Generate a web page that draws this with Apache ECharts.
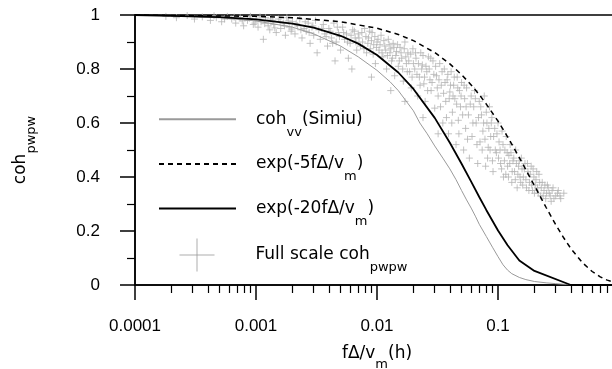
<!DOCTYPE html>
<html><head><meta charset="utf-8">
<script src="https://cdn.jsdelivr.net/npm/echarts@6/dist/echarts.min.js"></script>
<style>html,body{margin:0;padding:0;background:#fff}#c{width:612px;height:369px}</style>
</head><body><div id="c"></div><script>
// ---- data ----
const xTickLabels = ['0.0001','0.001','0.01','0.1','1'];
const xMinorTickValues = [2e-4,3e-4,4e-4,5e-4,6e-4,7e-4,8e-4,9e-4,
  0.002,0.003,0.004,0.005,0.006,0.007,0.008,0.009,
  0.02,0.03,0.04,0.05,0.06,0.07,0.08,0.09,
  0.2,0.3,0.4,0.5,0.6,0.7,0.8,0.9];

const simiuX = [0.0001,0.0002,0.0005,0.001,0.002,0.003,0.004,0.005,0.007,0.01,0.0128,0.015,0.02,0.0226,0.026,0.03,0.035,0.04,0.045,0.05,0.055,0.06,0.065,0.07,0.08,0.09,0.1,0.11,0.12,0.13,0.15,0.17,0.2,0.25,0.3,0.37,0.45,1];
const simiuY = [1.0,0.997,0.99,0.978,0.955,0.93,0.905,0.885,0.845,0.795,0.753,0.72,0.645,0.60,0.56,0.515,0.47,0.43,0.39,0.35,0.315,0.285,0.255,0.225,0.18,0.14,0.105,0.075,0.055,0.042,0.028,0.02,0.013,0.008,0.005,0.002,0,0];

const exp5X = [0.0001,0.001,0.002,0.005,0.01,0.015,0.02,0.03,0.04,0.05,0.06,0.07,0.08,0.1,0.12,0.15,0.2,0.25,0.3,0.35,0.4,0.5,0.6,0.7,0.8,0.9,1];
const exp5Y = [1.0,0.995,0.99,0.975,0.951,0.928,0.905,0.861,0.819,0.779,0.741,0.705,0.670,0.607,0.549,0.472,0.368,0.287,0.223,0.174,0.135,0.082,0.05,0.03,0.018,0.011,0.007];

const exp20X = [0.0001,0.0002,0.0005,0.001,0.002,0.003,0.005,0.007,0.01,0.015,0.02,0.03,0.04,0.05,0.06,0.07,0.08,0.1,0.12,0.15,0.2,0.4,1];
const exp20Y = [1.0,0.997,0.992,0.984,0.968,0.953,0.923,0.894,0.852,0.787,0.726,0.619,0.527,0.449,0.383,0.326,0.278,0.202,0.147,0.091,0.052,0,0];

const fullScalePoints = [
[0.00018,0.995],[0.00022,0.99],[0.00027,0.998],[0.00031,0.985],[0.00036,0.993],[0.00042,0.98],[0.00047,0.99],[0.00052,0.975],[0.00058,0.995],[0.00063,0.985],[0.00068,0.97],[0.00074,0.99],[0.00079,0.96],[0.00085,0.98],[0.0009,0.995],[0.00095,0.965],
[0.001,0.985],[0.00104,0.955],[0.0011,0.975],[0.00115,0.91],[0.0012,0.99],[0.00126,0.96],[0.0013,0.945],[0.00136,0.98],[0.0014,0.965],[0.00147,0.935],[0.00153,0.985],[0.0016,0.95],[0.00168,0.97],[0.00175,0.925],[0.0018,0.99],[0.00188,0.955],[0.00195,0.94],
[0.002,0.975],[0.0021,0.93],[0.0022,0.96],[0.0023,0.985],[0.0024,0.915],[0.0025,0.95],[0.0026,0.94],[0.0027,0.97],[0.0028,0.895],[0.0029,0.955],[0.003,0.925],[0.0031,0.98],[0.0032,0.86],[0.0033,0.945],[0.0034,0.91],[0.0036,0.965],[0.0037,0.93],[0.0039,0.885],[0.004,0.95],[0.0042,0.915],[0.0044,0.97],[0.0046,0.9],[0.0048,0.935],[0.005,0.87],[0.0052,0.955],[0.0054,0.91],[0.0056,0.93],[0.0058,0.84],[0.006,0.895],[0.0063,0.945],[0.0066,0.915],[0.0068,0.87],[0.007,0.93],[0.0073,0.885],[0.0076,0.9],[0.0079,0.95],[0.0082,0.86],[0.0085,0.915],[0.0088,0.875],[0.0091,0.935],[0.0094,0.89],[0.0097,0.82],
[0.01,0.9],[0.0104,0.87],[0.0108,0.925],[0.0112,0.845],[0.0116,0.885],[0.012,0.8],[0.0124,0.91],[0.0128,0.86],[0.0132,0.83],[0.0136,0.895],[0.014,0.775],[0.0145,0.865],[0.015,0.81],[0.0155,0.88],[0.016,0.84],[0.0165,0.755],[0.017,0.9],[0.0175,0.82],[0.018,0.86],[0.0186,0.79],[0.0192,0.73],[0.0198,0.875],
[0.0205,0.8],[0.021,0.84],[0.0217,0.7],[0.0224,0.77],[0.023,0.86],[0.0237,0.815],[0.0244,0.745],[0.025,0.68],[0.0258,0.79],[0.0266,0.845],[0.0274,0.76],[0.028,0.72],[0.029,0.83],[0.03,0.655],[0.031,0.775],[0.032,0.7],[0.033,0.82],[0.034,0.74],[0.035,0.6],[0.036,0.8],[0.037,0.68],[0.038,0.76],[0.039,0.56],[0.04,0.715],[0.041,0.79],[0.042,0.64],
[0.043,0.74],[0.044,0.69],[0.045,0.52],[0.046,0.77],[0.047,0.61],[0.048,0.72],[0.049,0.66],[0.05,0.75],[0.052,0.5],[0.053,0.69],[0.054,0.58],[0.055,0.73],[0.057,0.63],[0.058,0.47],[0.06,0.7],[0.061,0.55],[0.063,0.66],[0.064,0.72],[0.066,0.6],[0.068,0.45],[0.07,0.68],[0.071,0.53],[0.073,0.63],[0.075,0.57],[0.077,0.7],[0.079,0.44],[0.081,0.6],[0.083,0.51],[0.085,0.66],[0.087,0.55],[0.089,0.62],[0.091,0.42],
[0.094,0.58],[0.097,0.49],[0.1,0.6],[0.102,0.53],[0.105,0.45],[0.108,0.57],[0.111,0.4],[0.114,0.5],[0.117,0.55],[0.12,0.44],[0.123,0.48],[0.126,0.52],[0.13,0.38],[0.133,0.46],[0.137,0.42],[0.14,0.5],[0.144,0.36],[0.148,0.44],[0.152,0.4],[0.156,0.47],[0.16,0.37],[0.165,0.43],[0.17,0.39],[0.175,0.45],[0.18,0.35],[0.185,0.41],[0.19,0.37],[0.195,0.43],[0.2,0.34],[0.206,0.39],[0.212,0.36],[0.218,0.41],[0.225,0.33],[0.232,0.38],[0.24,0.35],[0.248,0.32],[0.256,0.37],[0.265,0.34],[0.275,0.31],[0.285,0.36],[0.3,0.33],[0.315,0.35],[0.33,0.32],[0.35,0.34],
[0.00045,0.997],[0.00055,0.985],[0.00066,0.992],[0.00077,0.978],[0.00088,0.988],[0.00098,0.97],[0.00108,0.993],[0.00118,0.968],[0.00132,0.985],[0.00143,0.952],[0.00158,0.975],[0.00172,0.96],[0.00185,0.978],[0.00198,0.948],[0.00215,0.968],[0.00235,0.945],[0.00255,0.975],[0.00275,0.935],[0.00295,0.96],
[0.0035,0.95],[0.0038,0.92],[0.0041,0.94],[0.0043,0.895],[0.0047,0.955],[0.0049,0.92],[0.0053,0.935],[0.0057,0.9],[0.0061,0.925],[0.0065,0.94],[0.0067,0.9],[0.0071,0.915],[0.0075,0.935],[0.0078,0.875],[0.0081,0.92],[0.0084,0.895],[0.0087,0.94],[0.009,0.905],[0.0093,0.855],[0.0096,0.92],[0.0099,0.88],
[0.0102,0.91],[0.0106,0.89],[0.011,0.86],[0.0114,0.905],[0.0118,0.87],[0.0122,0.85],[0.0126,0.89],[0.013,0.875],[0.0134,0.84],[0.0138,0.88],[0.0143,0.85],[0.0148,0.89],[0.0153,0.83],[0.0158,0.86],[0.0163,0.8],[0.0168,0.875],[0.0173,0.845],[0.0178,0.79],[0.0183,0.83],[0.019,0.855],[0.0195,0.77],[0.02,0.82],[0.0208,0.86],[0.0214,0.78],[0.022,0.82],[0.0227,0.74],[0.0234,0.8],[0.024,0.85],[0.0247,0.77],[0.0254,0.81],[0.0262,0.72],[0.027,0.8],[0.0278,0.84],[0.0285,0.75],[0.0295,0.78],
[0.0305,0.81],[0.0315,0.73],[0.0325,0.76],[0.0335,0.66],[0.0345,0.79],[0.0355,0.71],[0.0365,0.75],[0.0375,0.62],[0.0385,0.78],[0.0395,0.69],[0.0405,0.74],[0.0415,0.6],[0.0425,0.7],[0.0435,0.77],[0.0455,0.67],[0.0465,0.73],[0.0475,0.56],[0.0495,0.7],[0.051,0.63],[0.0525,0.74],[0.0545,0.66],[0.056,0.54],[0.059,0.67],[0.062,0.6],[0.065,0.69],[0.067,0.52],[0.069,0.62],[0.072,0.66],[0.074,0.5],[0.076,0.6],[0.078,0.54],[0.08,0.64],[0.082,0.47],[0.084,0.58],[0.086,0.5],[0.088,0.6],[0.09,0.46],[0.092,0.55],[0.095,0.5],[0.098,0.56],
[0.101,0.47],[0.104,0.5],[0.107,0.43],[0.11,0.52],[0.113,0.46],[0.116,0.41],[0.119,0.49],[0.122,0.4],[0.125,0.45],[0.128,0.49],[0.131,0.42],[0.135,0.47],[0.139,0.39],[0.142,0.45],[0.146,0.41],[0.15,0.46],[0.154,0.38],[0.158,0.43],[0.162,0.4],[0.167,0.45],[0.172,0.36],[0.177,0.42],[0.182,0.38],[0.188,0.44],[0.193,0.35],[0.198,0.4],[0.203,0.37],[0.209,0.42],[0.215,0.34],[0.221,0.38],[0.228,0.36],[0.236,0.33],[0.244,0.37],[0.252,0.34],[0.26,0.36],[0.27,0.33],[0.28,0.35],[0.29,0.32],[0.31,0.34],[0.325,0.33],
[0.0045,0.83],[0.0062,0.8],[0.009,0.77],[0.013,0.72],[0.017,0.68],[0.024,0.62],[0.032,0.56]
];

const seriesNames = ['coh_vv(Simiu)','exp(-5f\u0394/v_m)','exp(-20f\u0394/v_m)','Full scale coh_pwpw'];
const legendRichText = {
  'coh_vv(Simiu)': '{m|coh}{s|vv}{m|(Simiu)}',
  'exp(-5f\u0394/v_m)': '{m|exp(-5f\u0394/v}{s|m}{m|)}',
  'exp(-20f\u0394/v_m)': '{m|exp(-20f\u0394/v}{s|m}{m|)}',
  'Full scale coh_pwpw': '{m|Full scale coh}{s|pwpw}'
};

// ---- chart ----
const zip = (xs, ys) => xs.map((x, i) => [x, ys[i]]);
const FONT = 'DejaVu Sans';
const TICKFONT = 'Liberation Sans';
const chart = echarts.init(document.getElementById('c'), null, {renderer: 'canvas', devicePixelRatio: 1});

const richFor = (lh) => ({
  m: {fontFamily: FONT, fontSize: 17, color: '#000', lineHeight: lh, verticalAlign: 'middle'},
  s: {fontFamily: FONT, fontSize: 13, color: '#000', lineHeight: 13, verticalAlign: 'bottom'}
});
const hiddenSymbol = {opacity: 0};
const legendText = {fontFamily: FONT, fontSize: 17, color: '#000', padding: [0, 0, 0, 15], rich: richFor(39)};

chart.setOption({
  backgroundColor: '#fff',
  animation: false,
  grid: {left: 135, right: -7, top: 15, bottom: 84, show: true, borderColor: '#000', borderWidth: 1.5,
         backgroundColor: 'transparent', containLabel: false, outerBoundsMode: 'none'},
  legend: [{
    orient: 'vertical', left: 153, top: 101, itemWidth: 77, itemHeight: 33, itemGap: 12,
    selectedMode: false,
    data: [
      {name: seriesNames[0], itemStyle: hiddenSymbol},
      {name: seriesNames[1], itemStyle: hiddenSymbol},
      {name: seriesNames[2], itemStyle: hiddenSymbol}
    ],
    formatter: n => legendRichText[n],
    textStyle: legendText
  }, {
    orient: 'vertical', left: 153, top: 233, itemWidth: 77, itemHeight: 33,
    selectedMode: false,
    data: [
      {name: seriesNames[3], icon: 'path://M0,0M77,0M21,16.5L56,16.5M38.5,0L38.5,33',
       itemStyle: {color: 'rgba(0,0,0,0)', borderColor: '#999', borderWidth: 1}}
    ],
    formatter: n => legendRichText[n],
    textStyle: legendText
  }],
  xAxis: [{
    type: 'log', logBase: 10, min: 0.0001, max: 1, position: 'bottom',
    name: '{m|f\u0394/v}{s|m}{m|(h)}', nameLocation: 'middle', nameGap: 51.5,
    nameTextStyle: {fontFamily: FONT, fontSize: 17, color: '#000', rich: richFor(35)},
    axisLine: {onZero: false, lineStyle: {color: '#000', width: 1.5}},
    axisTick: {show: true, length: 15, lineStyle: {color: '#000', width: 1.5}},
    minorTick: {show: false},
    splitLine: {show: false}, minorSplitLine: {show: false},
    axisLabel: {margin: 33, fontFamily: TICKFONT, fontSize: 17, color: '#000',
      formatter: v => { const i = Math.round(Math.log10(v)) + 4; return i >= 0 && i < 4 ? xTickLabels[i] : ''; }}
  }, {
    type: 'value', min: -4, max: 0, position: 'bottom', show: true,
    axisLine: {show: false}, axisLabel: {show: false}, splitLine: {show: false},
    axisTick: {show: true, length: 8, customValues: xMinorTickValues.map(v => Math.log10(v)),
      lineStyle: {color: '#000', width: 1.2}}
  }],
  yAxis: {
    type: 'value', min: 0, max: 1, interval: 0.2,
    name: '{m|coh}{s|pwpw}', nameLocation: 'middle', nameRotate: 90, nameGap: 96.5,
    nameTextStyle: {fontFamily: FONT, fontSize: 17, color: '#000', rich: richFor(35)},
    axisLine: {show: true, onZero: false, lineStyle: {color: '#000', width: 1.5}},
    axisTick: {show: true, length: 15, lineStyle: {color: '#000', width: 1.5}},
    minorTick: {show: true, splitNumber: 2, length: 8, lineStyle: {color: '#000', width: 1.2}},
    splitLine: {show: false}, minorSplitLine: {show: false},
    axisLabel: {margin: 35, fontFamily: TICKFONT, fontSize: 17, color: '#000'}
  },
  series: [
    {name: seriesNames[3], type: 'scatter', xAxisIndex: 0, data: fullScalePoints, z: 1,
     symbol: 'path://M0,3.5L7,3.5M3.5,0L3.5,7', symbolSize: 7,
     itemStyle: {color: 'rgba(0,0,0,0)', borderColor: '#b4b4b4', borderWidth: 1}},
    {name: seriesNames[0], type: 'line', xAxisIndex: 0, data: zip(simiuX, simiuY), symbol: 'none', z: 3,
     lineStyle: {color: '#9a9a9a', width: 1}},
    {name: seriesNames[1], type: 'line', xAxisIndex: 0, data: zip(exp5X, exp5Y), symbol: 'none', z: 4,
     lineStyle: {color: '#000', width: 1.5, type: [5, 4]}},
    {name: seriesNames[2], type: 'line', xAxisIndex: 0, data: zip(exp20X, exp20Y), symbol: 'none', z: 5,
     lineStyle: {color: '#000', width: 1.8}}
  ]
});
</script></body></html>
